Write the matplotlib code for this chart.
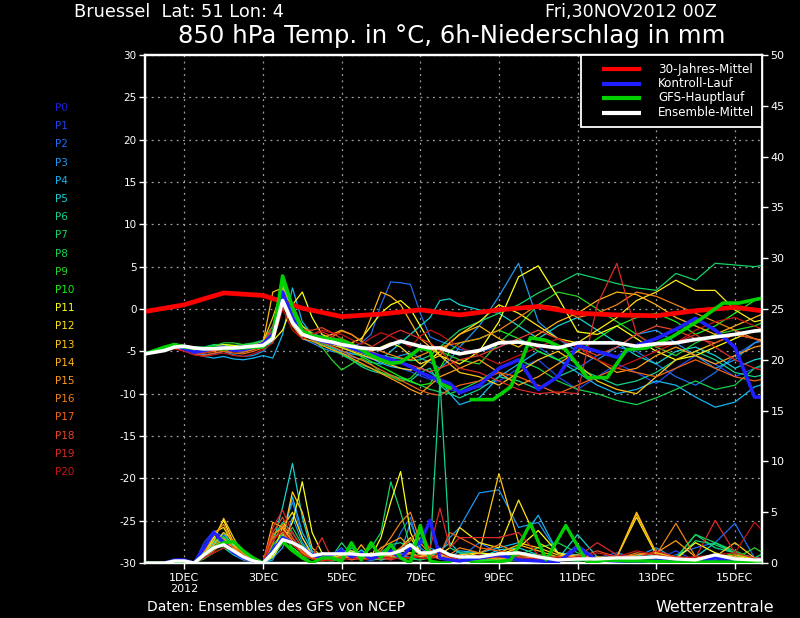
import matplotlib
matplotlib.use('Agg')
import matplotlib.pyplot as plt
from matplotlib.patches import Rectangle
from matplotlib.lines import Line2D

plt.rcParams['axes.unicode_minus'] = False
plt.rcParams['font.family'] = ['DejaVu Sans']

# ---------------- data ----------------
# time in days since 30NOV2012 00Z (6-hourly to day 8, then 12-hourly)
T = [0.0, 0.25, 0.5, 0.75, 1.0, 1.25, 1.5, 1.75, 2.0, 2.25, 2.5, 2.75, 3.0,
     3.25, 3.5, 3.75, 4.0, 4.25, 4.5, 4.75, 5.0, 5.25, 5.5, 5.75, 6.0, 6.25,
     6.5, 6.75, 7.0, 7.25, 7.5, 7.75, 8.0,
     8.5, 9.0, 9.5, 10.0, 10.5, 11.0, 11.5, 12.0, 12.5, 13.0, 13.5, 14.0,
     14.5, 15.0, 15.5, 16.0]

members = ['P%d' % i for i in range(21)]
member_colors = ['#1c1cd8', '#1e46f0', '#1e6ef0', '#1e96f0', '#14b4f0', '#14d2d2',
                 '#14d28c', '#14d264', '#14d250', '#28d228', '#14f014', '#ffff14',
                 '#ffe614', '#ffc814', '#ffb414', '#ff9c14', '#f08214', '#f06414',
                 '#e64628', '#dc2828', '#c81414']

# 850 hPa temperature (degC) per member
temp = [
 # P0 (control)
 [-5.3,-5.0,-4.6,-4.3,-4.7,-5.1,-4.9,-4.6,-4.5,-4.9,-4.8,-4.5,-4.1, -3.0,2.0,-1.0,-2.8,
  -3.4,-3.8,-4.0,-4.2,-4.6,-5.0,-5.3,-5.6,-6.0,-6.3,-6.8,-7.5,-8.0,-8.4,-8.8,-9.9,
  -9.0,-7.0,-6.0,-9.5,-8.0,-4.3,-5.0,-5.7,-4.3,-3.5,-2.4,-1.1,-2.5,-4.5,-10.4,-10.4],
 # P1
 [-5.3,-5.0,-4.8,-4.5,-4.8,-5.3,-5.2,-4.9,-4.7,-5.0,-5.1,-4.8,-4.3, -2.5,1.5,-2.0,-3.0,
  -3.5,-4.2,-4.6,-5.0,-5.2,-5.5,-5.9,-6.2,-6.5,-7.0,-7.4,-7.9,-8.3,-8.8,-9.5,-9.8,
  -9.2,-8.5,-7.0,-6.0,-8.0,-9.5,-8.0,-6.5,-7.5,-8.8,-7.0,-5.5,-6.5,-8.0,-7.0,-6.5],
 # P2
 [-5.2,-4.9,-4.5,-4.2,-4.6,-5.0,-5.0,-4.7,-4.4,-4.7,-4.9,-4.6,-4.2, -3.5,0.8,-1.5,-3.2,
  -3.0,-3.2,-3.6,-4.0,-4.5,-4.0,-3.0,0.5,3.2,3.1,2.9,-0.5,-3.3,-3.8,-4.2,-4.8,
  -5.0,-4.5,-3.5,-4.5,-6.0,-7.0,-5.5,-4.5,-5.0,-6.5,-8.0,-9.0,-7.5,-5.5,-4.0,-3.5],
 # P3
 [-5.3,-5.0,-4.7,-4.4,-4.8,-5.2,-5.4,-5.3,-5.0,-5.4,-5.6,-5.5,-5.0, -3.8,0.5,-0.5,-3.5,
  -4.0,-4.6,-5.0,-5.2,-5.6,-6.0,-6.3,-6.5,-6.0,-5.5,-5.2,-5.8,-6.3,-7.0,-6.0,-4.5,
  -2.0,1.5,5.4,-1.5,-3.5,-5.0,-6.0,-4.5,-3.0,-2.5,-4.0,-5.5,-7.0,-6.0,-4.0,-3.0],
 # P4
 [-5.3,-5.1,-4.9,-4.6,-4.9,-5.3,-5.6,-5.8,-5.6,-5.9,-6.0,-5.8,-5.5, -5.8,-3.0,2.5,-1.5,
  -3.0,-3.8,-4.5,-5.0,-5.3,-5.5,-5.8,-6.4,-6.8,-7.0,-7.2,-6.9,-7.5,-8.2,-10.0,-11.3,
  -10.5,-8.0,-6.5,-5.0,-6.0,-7.5,-9.0,-10.0,-9.5,-8.5,-9.0,-10.4,-11.6,-11.0,-9.2,-8.5],
 # P5
 [-5.3,-5.0,-4.6,-4.3,-4.6,-4.9,-5.0,-4.8,-4.6,-4.8,-4.9,-4.6,-4.4, -4.0,1.0,-0.8,-2.5,
  -3.0,-3.5,-3.9,-4.3,-4.6,-5.2,-5.6,-6.0,-5.0,-4.0,-3.0,-2.0,-1.0,1.0,1.2,0.5,
  -0.1,-0.5,-2.0,-3.5,-2.0,-1.0,-2.5,-4.0,-5.5,-6.5,-5.0,-4.5,-5.5,-7.0,-6.0,-5.5],
 # P6
 [-5.3,-5.0,-4.6,-4.2,-4.4,-4.8,-4.6,-4.3,-4.2,-4.5,-4.4,-4.1,-3.8, -2.5,2.8,-0.5,-2.8,
  -3.4,-4.0,-4.6,-5.3,-6.0,-6.8,-7.3,-7.6,-7.9,-8.2,-8.5,-7.5,-7.0,-9.0,-10.0,-10.5,
  -9.5,-8.0,-8.5,-9.5,-8.0,-7.0,-8.0,-9.0,-8.5,-7.5,-6.0,-5.0,-6.0,-7.5,-8.0,-7.5],
 # P7
 [-5.3,-5.0,-4.5,-4.1,-4.3,-4.6,-4.5,-4.2,-4.2,-4.3,-4.2,-4.0,-3.7, -2.0,3.0,0.0,-2.0,
  -2.8,-3.4,-3.8,-4.0,-4.4,-4.8,-5.0,-5.5,-5.7,-5.9,-6.1,-6.0,-5.5,-4.5,-3.5,-2.5,
  -1.5,-0.5,0.5,1.9,3.0,4.2,3.6,3.0,2.5,2.2,4.2,3.4,5.4,5.2,5.0,5.4],
 # P8
 [-5.3,-5.1,-4.8,-4.5,-4.7,-5.0,-4.9,-4.7,-4.6,-4.7,-4.7,-4.4,-4.1, -3.0,2.0,-0.5,-3.0,
  -3.6,-4.2,-4.8,-5.4,-6.0,-6.6,-7.0,-7.5,-7.8,-8.2,-8.6,-9.0,-9.5,-9.8,-10.0,-9.6,
  -8.5,-7.0,-6.0,-7.0,-8.5,-9.5,-10.0,-10.8,-11.3,-10.5,-9.5,-8.5,-9.5,-9.0,-7.0,-6.0],
 # P9
 [-5.3,-5.0,-4.6,-4.3,-4.5,-4.9,-4.7,-4.4,-4.0,-4.0,-4.2,-4.1,-3.9, -3.0,2.2,-0.3,-2.5,
  -3.5,-4.5,-6.0,-7.2,-6.5,-5.8,-6.5,-7.5,-8.0,-8.5,-8.2,-7.0,-6.0,-5.0,-5.5,-6.0,
  -6.5,-4.0,-2.0,0.5,2.0,1.5,0.0,-1.5,-3.0,-4.5,-5.5,-4.0,-3.0,-2.5,-2.0,-1.0],
 # P10
 [-5.3,-5.0,-4.6,-4.4,-4.7,-5.0,-4.8,-4.5,-4.3,-4.5,-4.6,-4.4,-4.2, -3.0,3.2,0.5,-2.0,
  -3.0,-3.5,-4.0,-4.5,-5.0,-5.6,-6.2,-6.8,-7.4,-8.0,-8.5,-9.0,-8.8,-7.0,-5.0,-4.0,
  -3.5,-2.5,-3.5,-5.0,-6.0,-5.0,-3.5,-2.0,-1.0,-0.5,-1.5,-3.0,-2.0,-0.5,1.0,2.0],
 # P11
 [-5.3,-5.0,-4.5,-4.1,-4.4,-4.9,-4.9,-4.5,-4.2,-4.3,-4.5,-4.3,-4.0, -3.8,-2.5,0.5,2.0,
  -1.0,-3.0,-3.5,-3.8,-4.0,-3.5,-2.0,-0.5,0.5,1.0,0.0,-2.0,-4.0,-5.5,-6.0,-6.5,
  -5.0,-1.5,3.8,5.1,1.4,-2.7,-3.0,-2.0,-3.5,-5.0,-6.0,-5.5,-4.5,-3.5,-2.5,-2.0],
 # P12
 [-5.3,-5.1,-4.8,-4.5,-4.8,-5.2,-5.0,-4.7,-4.5,-4.7,-4.8,-4.5,-4.2, -3.5,1.2,-1.0,-3.0,
  -3.4,-3.8,-4.1,-4.4,-4.8,-5.2,-5.0,-4.5,-4.0,-4.5,-5.5,-6.5,-6.0,-5.0,-4.0,-3.0,
  -1.5,0.5,-0.5,-2.0,-3.5,-4.0,-2.5,-1.0,1.0,2.0,3.4,2.2,2.2,-0.1,-1.5,-1.0],
 # P13
 [-5.3,-5.0,-4.7,-4.4,-4.6,-5.0,-4.9,-4.6,-4.4,-4.6,-4.6,-4.3,-3.9, -1.0,2.5,0.0,-2.0,
  -3.0,-3.6,-4.2,-4.6,-5.0,-5.4,-5.8,-6.2,-6.6,-7.0,-7.2,-7.0,-6.0,-5.5,-6.5,-7.5,
  -8.0,-9.0,-7.5,-6.0,-5.0,-6.5,-8.5,-9.5,-10.0,-8.0,-6.0,-5.0,-4.0,-3.0,-3.5,-4.0],
 # P14
 [-5.3,-5.1,-4.8,-4.4,-4.7,-5.1,-5.0,-4.8,-4.6,-4.8,-4.7,-4.4,-4.0, 2.0,2.5,-1.0,-3.5,
  -3.2,-3.4,-3.0,-2.5,-3.0,-3.8,-1.0,2.0,1.5,0.5,-1.5,-3.5,-4.5,-5.5,-4.0,-3.0,
  -2.0,-3.5,-4.5,-3.0,-1.5,-0.5,1.0,2.0,1.7,0.5,-1.0,-2.0,-3.0,-2.0,-1.0,0.0],
 # P15
 [-5.3,-5.0,-4.6,-4.3,-4.6,-5.0,-5.1,-4.9,-4.8,-5.0,-5.0,-4.7,-4.3, -3.0,0.5,-2.0,-3.5,
  -3.8,-4.3,-4.8,-5.2,-5.8,-6.4,-7.0,-7.6,-8.2,-8.8,-9.5,-10.0,-9.0,-8.0,-7.5,-7.0,
  -6.0,-7.5,-9.0,-8.0,-6.5,-5.0,-6.0,-7.5,-7.0,-5.5,-4.5,-5.5,-6.5,-5.5,-4.5,-4.0],
 # P16
 [-5.3,-5.1,-4.9,-4.6,-4.9,-5.3,-5.2,-5.0,-4.8,-5.0,-5.1,-4.8,-4.4, -3.0,1.8,-0.5,-2.5,
  -3.2,-3.6,-3.3,-2.6,-3.0,-3.8,-4.4,-5.0,-5.4,-5.8,-6.0,-5.5,-5.0,-4.5,-4.2,-4.0,
  -3.5,-2.5,-1.0,0.5,0.2,-1.0,-0.5,0.5,2.0,1.5,0.5,-0.5,-1.5,-2.5,-3.5,-4.5],
 # P17
 [-5.3,-5.0,-4.7,-4.5,-4.9,-5.4,-5.5,-5.2,-5.0,-5.2,-5.3,-5.0,-4.6, -3.5,1.5,-1.0,-3.0,
  -3.6,-4.0,-4.4,-4.9,-5.5,-6.0,-6.6,-7.2,-7.8,-8.4,-9.0,-9.6,-10.0,-10.2,-9.5,-9.0,
  -8.5,-7.5,-8.0,-9.0,-10.0,-9.0,-8.0,-7.0,-7.5,-8.0,-7.0,-6.0,-7.0,-8.0,-8.5,-8.0],
 # P18
 [-5.3,-5.1,-4.7,-4.4,-4.7,-5.1,-5.0,-4.8,-4.5,-4.7,-4.8,-4.5,-4.1, -2.0,1.0,-1.0,-2.5,
  -2.5,-2.2,-2.8,-3.5,-4.0,-4.6,-5.0,-5.6,-6.0,-6.3,-6.6,-7.0,-7.4,-7.0,-6.5,-6.0,
  -5.5,-4.5,-3.5,-2.5,-3.5,-4.5,-5.5,-4.5,-3.0,-2.0,-2.5,-3.5,-4.0,-3.0,-3.5,-4.5],
 # P19
 [-5.3,-5.0,-4.7,-4.4,-4.7,-5.2,-5.2,-4.9,-4.7,-4.9,-4.9,-4.6,-4.3, -2.5,2.0,-1.5,-3.0,
  -3.0,-2.7,-3.2,-4.0,-4.5,-5.0,-4.5,-3.8,-3.0,-2.5,-3.0,-3.5,-4.0,-5.0,-6.0,-7.0,
  -7.5,-8.5,-9.5,-10.0,-9.8,-10.0,0.5,5.4,-3.0,-4.5,-4.0,-3.0,-4.5,-6.0,-7.0,-7.5],
 # P20
 [-5.3,-5.1,-4.9,-4.7,-5.0,-5.4,-5.6,-5.4,-5.2,-5.5,-5.6,-5.3,-4.8, -4.0,0.0,-2.5,-3.5,
  -3.0,-2.5,-2.8,-3.0,-3.6,-4.2,-3.4,-2.8,-3.2,-3.8,-4.5,-3.2,-2.5,-3.0,-3.8,-4.5,
  -5.5,-6.5,-5.5,-4.5,-3.5,-4.5,-6.0,-7.0,-6.0,-5.0,-4.0,-2.5,-1.5,-1.0,-2.0,-3.0],
]

# 6h precipitation (mm) per member
prec = [
 [0,0,0,0.3,0.3,0, 1.5,3.0,2.0,1.0,0.5,0.2, 0,1.2,2.5,2.0,1.5,0.8,0.5,
  0.8,1.2,0.6,1.0,0.4,0.8,1.2,0.5,1.5,2.0,4.2,0.5,0.3,0.2,
  0.5,0.8,0.3,0.2,0.1,1.5,0.3,0.2,0.1,0.3,0.2,0.1,0.5,0.2,0.3,0.2],
 [0,0,0,0,0.2,0, 2.0,3.2,2.5,1.0,0.4,0.1, 0,0.8,2.0,3.0,1.5,0.5,0.3,
  0.5,0.3,1.0,0.5,0.2,0.6,0.3,1.0,0.5,1.5,4.2,1.0,0.4,0.2,
  0.3,0.5,0.2,0.1,0.3,1.8,0.4,0.2,0.1,0.3,1.2,0.2,0.4,0.3,0.2,0.1],
 [0,0,0,0.2,0.2,0, 1.0,2.0,2.8,1.5,0.8,0.2, 0,1.5,3.0,6.0,2.5,1.0,0.6,
  0.8,1.5,0.5,0.3,1.0,0.4,0.8,3.0,4.5,1.0,0.5,1.5,0.8,0.5,
  2.0,1.0,0.8,0.5,0.3,0.2,0.5,1.0,0.5,0.3,0.8,1.5,2.0,3.9,0.5,0.3],
 [0,0,0,0,0,0, 0.5,1.5,2.2,1.8,0.6,0.3, 0,0.5,1.5,4.5,2.0,0.8,0.4,
  0.3,0.5,0.8,1.2,0.5,0.3,0.6,1.0,4.0,1.5,0.8,1.0,2.5,3.5,
  6.9,7.2,3.5,4.0,1.0,0.5,0.3,0.8,0.6,1.5,0.4,0.3,0.5,0.6,0.3,0.2],
 [0,0,0,0,0,0, 1.5,2.5,1.8,0.8,0.3,0.1, 0,0.3,2.5,6.5,3.0,1.2,0.5,
  0.4,0.8,1.2,0.6,0.3,0.8,0.4,0.6,1.0,0.5,1.5,1.0,0.5,1.2,
  1.0,1.5,2.0,4.7,1.0,0.8,0.5,0.4,0.3,0.6,0.5,0.2,0.3,0.4,0.2,0.1],
 [0,0,0,0,0,0, 0.8,2.0,3.0,1.6,0.5,0.2, 0,2.0,5.5,9.8,4.5,1.0,0.4,
  0.3,0.6,0.4,1.3,0.6,0.3,0.5,0.7,0.5,0.3,0.6,1.2,2.0,1.0,
  0.5,1.3,1.5,0.8,0.4,2.8,0.6,0.3,0.8,0.5,0.3,0.6,2.0,1.0,0.5,0.3],
 [0,0,0,0,0,0, 1.2,2.2,1.5,0.8,0.4,0.2, 0,2.5,4.0,3.0,1.5,0.8,0.5,
  0.5,0.3,1.5,0.8,0.5,1.0,1.8,2.0,1.5,2.5,1.0,18.0,1.5,1.0,
  1.0,0.5,0.3,0.2,0.5,0.4,0.3,0.2,0.5,0.8,0.4,2.8,1.5,1.0,0.3,0.2],
 [0,0,0,0,0,0, 0.6,1.8,2.5,2.0,1.0,0.3, 0,1.0,3.0,2.0,1.0,0.5,0.3,
  0.6,2.0,0.8,0.6,1.5,3.0,8.0,5.0,1.5,3.0,0.8,0.4,0.3,0.2,
  0.3,0.5,1.0,0.8,0.6,0.4,0.3,0.2,0.4,0.5,0.3,2.2,1.8,1.0,0.5,1.5],
 [0,0,0,0,0,0, 0.4,1.0,1.5,1.2,0.5,0.2, 0,0.8,2.2,3.5,1.8,0.6,0.3,
  0.2,0.4,0.6,0.5,0.3,0.4,0.8,0.6,0.4,0.3,0.5,0.8,0.6,0.5,
  0.4,0.3,0.8,1.5,2.0,1.0,0.5,0.3,0.2,0.4,0.5,2.8,2.0,1.2,0.4,0.3],
 [0,0,0,0.3,0.2,0, 1.0,2.2,2.6,1.5,0.6,0.2, 0,1.8,2.8,1.5,0.8,0.5,0.3,
  0.5,1.2,0.8,0.5,0.6,1.0,0.7,1.2,0.9,0.6,1.0,0.5,0.4,0.3,
  0.2,0.4,0.3,0.5,0.4,0.3,0.6,0.4,0.3,0.2,0.4,0.3,0.6,0.4,1.5,0.3],
 [0,0,0,0,0,0, 0.8,1.5,2.0,1.6,0.8,0.3, 0,1.2,2.0,1.5,0.7,0.4,0.2,
  0.4,0.5,1.0,0.6,0.4,0.8,0.5,0.6,0.5,0.9,0.7,0.5,0.4,0.3,
  0.2,0.3,0.5,0.4,0.3,0.2,0.4,0.3,0.5,0.3,0.2,0.6,0.4,1.0,0.3,0.2],
 [0,0,0,0,0,0, 1.0,2.5,4.2,2.0,0.6,0.2, 0,0.6,2.0,4.0,8.0,3.0,1.0,
  0.8,1.0,1.2,1.0,0.6,2.5,6.0,9.0,3.0,1.0,0.5,0.6,0.8,0.5,
  1.0,0.8,1.5,3.2,1.0,0.5,0.3,0.4,0.6,0.3,0.4,2.0,1.0,0.5,0.3,0.2],
 [0,0,0,0,0,0, 1.4,3.0,3.5,1.8,0.7,0.3, 0,1.0,3.5,5.0,2.5,0.8,0.4,
  0.6,1.2,0.8,0.5,1.0,0.5,0.8,1.5,2.5,1.0,0.5,0.8,1.5,3.5,
  2.0,1.5,6.2,2.0,1.0,0.5,0.4,0.6,4.5,0.8,0.5,0.3,0.4,0.6,0.4,0.3],
 [0,0,0,0,0,0, 0.8,2.2,4.4,2.5,0.8,0.3, 0,0.8,2.5,7.0,5.0,1.5,0.6,
  0.5,0.8,1.0,0.6,0.4,1.0,0.8,1.2,1.0,0.6,0.8,0.4,0.6,0.8,
  1.0,8.8,2.0,1.5,0.8,0.5,0.4,0.6,5.0,1.0,0.5,0.3,0.6,2.0,0.5,0.3],
 [0,0,0,0,0,0, 0.6,1.8,3.0,2.2,1.0,0.3, 0,4.0,3.5,2.0,1.2,0.6,0.3,
  0.4,0.6,0.5,1.8,0.5,0.4,0.6,0.8,1.0,0.5,1.2,0.8,0.5,0.3,
  0.5,1.0,1.8,1.2,0.6,0.8,0.5,0.6,4.8,1.0,0.6,0.4,0.5,0.8,0.4,0.3],
 [0,0,0,0,0,0, 0.7,1.6,2.4,1.5,0.5,0.2, 0,2.8,3.5,2.2,1.0,0.5,0.3,
  0.5,0.4,0.8,0.6,0.5,1.5,2.0,2.5,1.5,0.8,0.6,0.5,0.4,0.3,
  0.5,0.4,0.6,0.5,0.3,0.4,0.6,0.5,0.8,1.0,2.2,0.6,0.5,0.4,0.3,0.2],
 [0,0,0,0,0,0, 1.0,2.8,3.8,2.0,0.8,0.3, 0,2.0,3.8,2.5,1.2,0.6,0.3,
  0.3,0.5,1.0,0.4,0.6,1.2,2.5,4.0,5.0,2.0,0.8,0.5,0.8,1.5,
  1.0,1.8,1.0,0.6,0.4,0.5,0.3,0.4,1.0,0.8,3.9,0.6,0.5,0.4,0.3,0.2],
 [0,0,0,0,0,0, 0.5,1.2,2.0,1.6,0.8,0.2, 0,2.5,3.0,1.8,1.0,0.5,0.3,
  0.4,0.6,0.3,0.5,0.8,0.6,0.4,1.5,2.2,3.5,1.2,0.8,3.0,2.5,
  1.5,1.2,0.8,0.5,0.3,0.4,0.5,0.3,0.6,0.5,0.4,0.3,0.8,0.5,0.3,0.2],
 [0,0,0,0,0,0, 0.6,1.4,2.2,1.2,0.5,0.2, 0,3.0,4.5,2.5,1.2,0.6,0.4,
  0.3,0.5,0.4,0.6,0.5,0.4,0.8,0.6,0.9,0.5,0.7,0.4,0.5,0.3,
  0.4,0.6,0.5,0.3,0.4,0.5,1.2,0.6,0.4,0.5,0.3,0.4,0.5,0.3,0.4,0.3],
 [0,0,0,0,0,0, 0.8,1.6,1.8,1.0,0.4,0.1, 0,3.5,5.2,3.0,1.5,0.6,2.5,
  0.4,0.3,0.5,0.6,0.4,0.5,0.3,0.6,0.4,0.8,1.5,5.4,1.5,2.5,
  2.5,2.5,3.0,0.8,0.5,0.6,2.0,0.8,0.5,1.2,0.6,0.5,4.2,1.0,0.5,0.3],
 [0,0,0,0,0,0, 0.5,1.0,1.5,1.2,0.6,0.2, 0,2.2,3.2,2.0,0.8,0.4,0.2,
  0.3,0.4,0.5,0.3,0.4,0.6,0.5,0.4,0.6,0.5,0.4,1.0,0.6,0.5,
  0.8,0.6,0.5,0.4,0.6,0.5,1.0,0.6,1.2,0.8,0.5,0.6,0.8,1.0,4.0,2.0],
]

# ensemble mean
mean_temp = [-5.3,-5.1,-4.9,-4.5,-4.4,-4.6,-4.7,-4.7,-4.6,-4.6,-4.5,-4.4,-4.3,
             -3.5,1.0,-1.6,-3.0,
             -3.4,-3.7,-3.9,-4.2,-4.4,-4.6,-4.7,-4.7,-4.2,-3.8,-4.1,-4.4,-4.6,-4.6,-5.0,-5.3,
             -4.9,-4.0,-3.9,-4.3,-4.6,-4.0,-4.0,-4.0,-4.4,-4.1,-4.0,-3.6,-3.3,-3.0,-2.6,-2.4]
mean_prec = [0,0,0,0.2,0.2,0, 0.8,1.5,1.8,1.2,0.6,0.2, 0,1.0,2.3,2.0,1.5,0.7,0.9,
             0.9,0.9,0.9,0.8,0.8,0.9,0.9,1.2,1.8,1.0,1.0,1.3,0.8,0.6,
             0.6,0.9,1.0,0.6,0.3,0.4,0.4,0.5,0.5,0.6,0.4,0.3,0.8,0.4,0.3,0.3]

# control run (Kontroll-Lauf) = P0
ctrl_temp = temp[0]
ctrl_prec = prec[0]

# GFS main run: high resolution part (first 32 time steps) and low resolution part
gfs_hr_temp = [-5.3,-4.9,-4.5,-4.2,-4.5,-4.6,-4.7,-4.6,-4.7,-4.6,-4.6,-4.5,-4.5,
               -3.3,3.9,0.2,-2.6,
               -3.2,-3.4,-3.6,-3.7,-4.2,-4.8,-5.5,-6.0,-6.4,-6.3,-5.5,-4.6,-4.9,-8.8,-9.3]
gfs_hr_prec = [0,0,0,0,0,0, 0.8,1.5,2.0,2.1,1.2,0.5,0, 1.0,2.1,1.2,0.5,
               0.0,0.5,0.5,0.2,2.0,0.3,2.0,0.5,1.8,0.5,0.0,3.7,0.2,0.0,0.0]
gfs_lr_time = [8.3, 8.85, 9.3, 9.55, 9.8, 10.2, 10.7, 11.25, 11.75, 12.25, 12.75,
               13.4, 14.1, 14.7, 15.1, 15.6, 16.0]
gfs_lr_temp = [-10.7,-10.7,-9.2,-6.4,-3.4,-3.7,-4.8,-8.1,-8.1,-4.8,-4.6,-3.3,-1.3,0.7,0.7,1.2,1.4]
gfs_lr_prec = [0.0,0.0,0.3,2.0,3.9,0.3,3.7,0.0,0.3,0.2,0.2,0.1,0.1,0.1,0.1,0.2,0.2]

# 30-year climatological mean
clim_time = [0, 1, 2, 3, 4, 5, 6, 7, 8, 9, 10, 11, 12, 13, 14, 15, 16]
clim_temp = [-0.3, 0.5, 1.9, 1.6, 0.1, -0.9, -0.6, -0.1, -0.7, -0.1, 0.3, -0.5, -0.7, -0.8, -0.2, 0.2, -0.4]

date_ticks = [1, 3, 5, 7, 9, 11, 13, 15]
date_labels = ['1DEC\n2012', '3DEC', '5DEC', '7DEC', '9DEC', '11DEC', '13DEC', '15DEC']
temp_ticks = [-30, -25, -20, -15, -10, -5, 0, 5, 10, 15, 20, 25, 30]
prec_ticks = [0, 5, 10, 15, 20, 25, 30, 35, 40, 45, 50]

legend_labels = ['30-Jahres-Mittel', 'Kontroll-Lauf', 'GFS-Hauptlauf', 'Ensemble-Mittel']
legend_colors = ['#ff0000', '#2020ff', '#00d000', '#ffffff']

for i, (a, b) in enumerate(zip(temp, prec)):
    assert len(a) == len(T), ('temp', i, len(a))
    assert len(b) == len(T), ('prec', i, len(b))

# ---------------- figure ----------------
W, H = 800, 618
fig = plt.figure(figsize=(8, 6.18), dpi=100, facecolor='black')
L, R, TOP, BOT = 145, 762, 55, 563
ax = fig.add_axes([L / W, (H - BOT) / H, (R - L) / W, (BOT - TOP) / H])
ax.set_facecolor('black')
ax.set_xlim(0, 15.69)
ax.set_ylim(-30, 30)
ax2 = ax.twinx()
ax2.set_ylim(0, 50)

for a in (ax, ax2):
    for s in a.spines.values():
        s.set_color('white')
        s.set_linewidth(1.6)

ax.set_xticks(date_ticks)
ax.set_xticklabels(date_labels)
ax.set_yticks(temp_ticks)
ax.set_yticklabels([str(v) for v in temp_ticks])
ax2.set_yticks(prec_ticks)
ax2.set_yticklabels([str(v) for v in prec_ticks])
ax.tick_params(axis='both', direction='out', colors='white', length=4, width=1,
               labelsize=7.5, pad=2)
ax.tick_params(axis='x', labelsize=8, pad=3)
ax2.tick_params(axis='y', direction='out', colors='white', length=4, width=1,
                labelsize=8, pad=2)
ax.grid(True, color='#a0a0a0', linestyle=(0, (1.5, 3.5)), linewidth=0.9)
ax.set_axisbelow(True)

# members
for i in range(21):
    ax.plot(T, temp[i], color=member_colors[i], lw=0.9, zorder=2)
    ax2.plot(T, prec[i], color=member_colors[i], lw=0.9, zorder=2)

# thick lines: temperature
ax.plot(clim_time, clim_temp, color=legend_colors[0], lw=3.4, zorder=5)
ax.plot(T, ctrl_temp, color=legend_colors[1], lw=2.6, zorder=5)
ax.plot(T[:32], gfs_hr_temp, color=legend_colors[2], lw=2.6, zorder=5)
ax.plot(gfs_lr_time, gfs_lr_temp, color=legend_colors[2], lw=2.6, zorder=5)
ax.plot(T, mean_temp, color=legend_colors[3], lw=2.6, zorder=6)
# thick lines: precipitation
ax2.plot(T, ctrl_prec, color=legend_colors[1], lw=2.4, zorder=5)
ax2.plot(T[:32], gfs_hr_prec, color=legend_colors[2], lw=2.4, zorder=5)
ax2.plot(gfs_lr_time, gfs_lr_prec, color=legend_colors[2], lw=2.4, zorder=5)
ax2.plot(T, mean_prec, color=legend_colors[3], lw=2.4, zorder=6)

# legend box (upper right)
def axfrac(px, py):
    return (px - L) / (R - L), (BOT - py) / (BOT - TOP)

x0, y0 = axfrac(581, 127)
x1, y1 = axfrac(762, 55)
ax2.add_patch(Rectangle((x0, y0), x1 - x0, y1 - y0, transform=ax2.transAxes,
                        facecolor='black', edgecolor='white', lw=1.3, zorder=20,
                        clip_on=False))
for k, (lab, col) in enumerate(zip(legend_labels, legend_colors)):
    py = 69 + 14.5 * k
    xa, ya = axfrac(602, py)
    xb, _ = axfrac(641, py)
    ax2.add_line(Line2D([xa, xb], [ya, ya], transform=ax2.transAxes, color=col,
                        lw=3, zorder=21, solid_capstyle='butt'))
    xt, _ = axfrac(658, py)
    ax2.text(xt, ya, lab, transform=ax2.transAxes, color='white', fontsize=8.6,
             va='center', ha='left', zorder=22)

# member labels on the left
for i, (m, c) in enumerate(zip(members, member_colors)):
    fig.text(55 / W, 1 - (108 + 18.2 * i) / H, m, color=c, fontsize=7.5,
             va='center', ha='left')

# header and footer texts
fig.text(74 / W, 1 - 12 / H, 'Bruessel  Lat: 51 Lon: 4', color='white',
         fontsize=12.8, va='center', ha='left')
fig.text(545 / W, 1 - 12 / H, 'Fri,30NOV2012 00Z', color='white',
         fontsize=12.6, va='center', ha='left')
fig.text(178 / W, 1 - 36 / H, '850 hPa Temp. in °C, 6h-Niederschlag in mm',
         color='white', fontsize=17.6, va='center', ha='left')
fig.text(147 / W, 1 - 607 / H, 'Daten: Ensembles des GFS von NCEP', color='white',
         fontsize=10, va='center', ha='left')
fig.text(655 / W, 1 - 607 / H, 'Wetterzentrale', color='white',
         fontsize=11.4, va='center', ha='left')

fig.savefig('out.png', dpi=100, facecolor='black')
